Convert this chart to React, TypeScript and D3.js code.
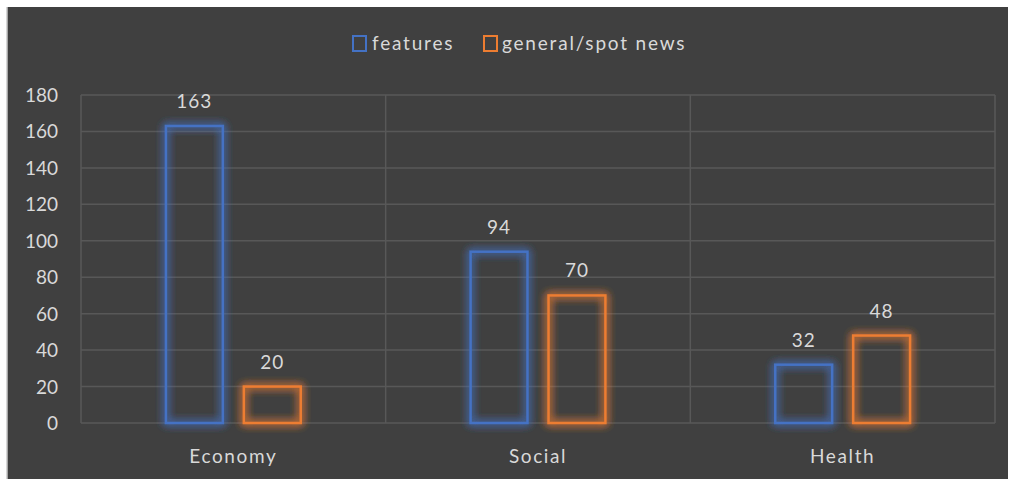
import React from "react";
import * as d3 from "d3";

const categories = ["Economy", "Social", "Health"];
const seriesNames = ["features", "general/spot news"];
const features = [163, 94, 32];
const generalSpotNews = [20, 70, 48];
const yTicks = [0, 20, 40, 60, 80, 100, 120, 140, 160, 180];

const W = 1010;
const H = 479;
const colors = ["#4472c4", "#ed7d31"];
const FONT = "Lato, 'Open Sans', sans-serif";
const TXT = "#d9d9d9";

export default function App() {
  const left = 81, right = 995, top = 95, bottom = 423;
  const x = d3.scaleBand<string>().domain(categories).range([left, right]).paddingInner(0).paddingOuter(0);
  const y = d3.scaleLinear().domain([0, 180]).range([bottom, top]);
  const inner = d3.scaleBand<string>().domain(seriesNames).range([0, x.bandwidth()]).paddingInner(0.27).paddingOuter(1.09);
  const series = [features, generalSpotNews];

  return (
    <svg width={W} height={H} style={{ position: "absolute", left: 0, top: 0 }} fontFamily={FONT}>
      <defs>
        {colors.map((c, i) => (
          <filter id={`glow${i}`} key={i} x="-40%" y="-40%" width="180%" height="180%">
            <feGaussianBlur in="SourceGraphic" stdDeviation="4" result="b" />
            <feComponentTransfer in="b" result="b2">
              <feFuncA type="linear" slope="0.8" />
            </feComponentTransfer>
            <feMerge>
              <feMergeNode in="b2" />
              <feMergeNode in="b2" />
              <feMergeNode in="b2" />
              <feMergeNode in="SourceGraphic" />
            </feMerge>
          </filter>
        ))}
      </defs>
      <rect x={0} y={0} width={W} height={H} fill="#ffffff" />
      <rect x={7} y={7} width={1001} height={H - 7} fill="#404040" />
      <line x1={7} x2={7} y1={7} y2={H} stroke="#c8c8c8" strokeWidth={1.5} />
      {yTicks.map((t) => (
        <g key={t}>
          <line x1={left} x2={right} y1={y(t)} y2={y(t)} stroke="#585858" strokeWidth={1.5} />
          <text x={58} y={y(t) + 7} textAnchor="end" fill={TXT} fontSize={19}>{t}</text>
        </g>
      ))}
      {[...categories.map((c) => x(c)!), right].map((v, i) => (
        <line key={i} x1={v} x2={v} y1={top} y2={bottom} stroke="#585858" strokeWidth={1.5} />
      ))}
      {categories.map((c, ci) => (
        <g key={c}>
          {seriesNames.map((s, si) => {
            const v = series[si][ci];
            const bx = x(c)! + inner(s)!;
            const bw = inner.bandwidth();
            return (
              <g key={s}>
                <rect x={bx} y={y(v)} width={bw} height={bottom - y(v)} fill="none" stroke={colors[si]} strokeWidth={2.5} filter={`url(#glow${si})`} />
                <text x={bx + bw / 2} y={y(v) - 18} textAnchor="middle" fill={TXT} fontSize={19} letterSpacing={1}>{v}</text>
              </g>
            );
          })}
          <text x={x(c)! + x.bandwidth() / 2} y={463} textAnchor="middle" fill={TXT} fontSize={19} letterSpacing={1.6}>{c}</text>
        </g>
      ))}
      <g>
        <rect x={353} y={36} width={13} height={15} fill="none" stroke={colors[0]} strokeWidth={2} />
        <text x={372} y={50} fill={TXT} fontSize={19} letterSpacing={1.8}>{seriesNames[0]}</text>
        <rect x={484} y={36} width={13} height={15} fill="none" stroke={colors[1]} strokeWidth={2} />
        <text x={502} y={50} fill={TXT} fontSize={19} letterSpacing={1.8}>{seriesNames[1]}</text>
      </g>
    </svg>
  );
}
